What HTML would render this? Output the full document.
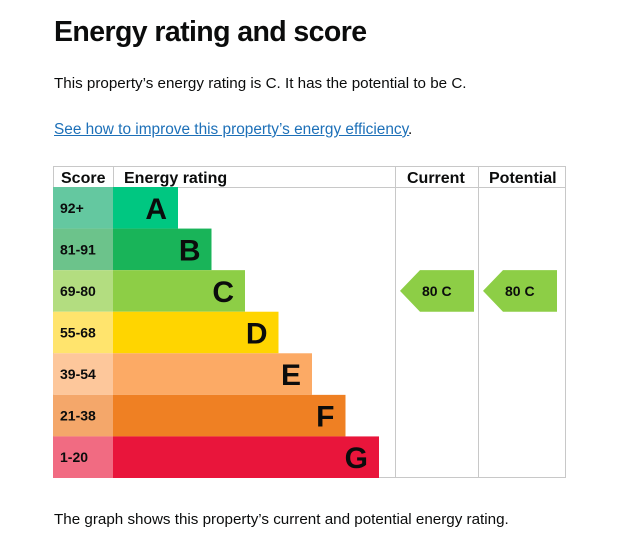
<!DOCTYPE html>
<html><head><meta charset="utf-8"><style>
body{margin:0;background:#fff;width:636px;height:558px;overflow:hidden;font-family:"Liberation Sans",sans-serif;color:#0b0c0c}
.t{position:absolute;left:54px;white-space:nowrap}
</style></head><body>
<div class="t" style="top:16px;font-size:28.5px;font-weight:bold;letter-spacing:-0.6px">Energy rating and score</div>
<div class="t" style="top:75px;font-size:15.2px">This property’s energy rating is C. It has the potential to be C.</div>
<a class="t" href="#" style="top:121px;font-size:15.4px;color:#1d70b8;text-decoration:underline">See how to improve this property’s energy efficiency</a><span class="t" style="top:121px;left:408px;font-size:15.4px">.</span>
<svg id="chart" width="636" height="558" style="position:absolute;left:0;top:0"></svg>
<div class="t" style="top:511px;font-size:15.2px">The graph shows this property’s current and potential energy rating.</div>
<script>
const bands=["A","B","C","D","E","F","G"];
const ranges=["92+","81-91","69-80","55-68","39-54","21-38","1-20"];
const mins=[92,81,69,55,39,21,1];
const currentScore=80, currentBand="C";
const potentialScore=80, potentialBand="C";
const barCol=["#00c781","#19b459","#8dce46","#ffd500","#fcaa65","#ef8023","#e9153b"];
const scoreCol=["#64c8a0","#6cc38b","#b3dd80","#ffe46d","#fdc79b","#f4a76a","#f16b82"];
const NS="http://www.w3.org/2000/svg",svg=document.getElementById("chart");
function el(t,a,txt){const e=document.createElementNS(NS,t);for(const k in a)e.setAttribute(k,a[k]);if(txt!=null)e.textContent=txt;svg.appendChild(e);return e;}
const top0=187,rowH=(478-187)/bands.length;
const y=i=>top0+i*rowH;
const barW=i=>65+i*33.5;
const bandIdx=s=>mins.findIndex(m=>s>=m);
let g=el("rect",{x:53.5,y:166.5,width:512,height:311,fill:"none",stroke:"#c8c8c8"});

let l=el("line",{x1:53,y1:187.5,x2:566,y2:187.5,stroke:"#c8c8c8"});

[113.5,395.5,478.5].forEach((x,i)=>{const v=el("line",{x1:x,y1:166,x2:x,y2:i?478:187,stroke:"#c8c8c8"});
});
[["Score",61],["Energy rating",124],["Current",407],["Potential",489]].forEach(([t,x])=>{const h=el("text",{x:x,y:183,"font-size":"16","font-weight":"bold",fill:"#0b0c0c"},t);
});
bands.forEach((b,i)=>{
 const s=el("rect",{x:53,y:y(i),width:60,height:rowH,fill:scoreCol[i]});
 
 const st=el("text",{x:60,y:y(i)+rowH/2+5,"font-size":"14","font-weight":"bold",fill:"#0b0c0c"},ranges[i]);
 
 const r=el("rect",{x:113,y:y(i),width:barW(i),height:rowH,fill:barCol[i]});
 
 const lt=el("text",{x:113+barW(i)-11,y:y(i)+rowH/2+11,"font-size":"30","font-weight":"bold","text-anchor":"end",fill:"#0b0c0c"},b);
 
});
function arrow(x0,score,band,name){
 const i=bandIdx(score),yt=y(i),h=rowH,c=barCol[bands.indexOf(band)];
 const p=el("polygon",{points:`${x0},${yt+h/2} ${x0+20},${yt} ${x0+74},${yt} ${x0+74},${yt+h} ${x0+20},${yt+h}`,fill:c});
 
 const t=el("text",{x:x0+22,y:yt+h/2+5,"font-size":"14","font-weight":"bold",fill:"#0b0c0c","xml:space":"preserve"},score+"  "+band);
 
}
arrow(400,currentScore,currentBand,"current");
arrow(483,potentialScore,potentialBand,"potential");
</script>
</body></html>
